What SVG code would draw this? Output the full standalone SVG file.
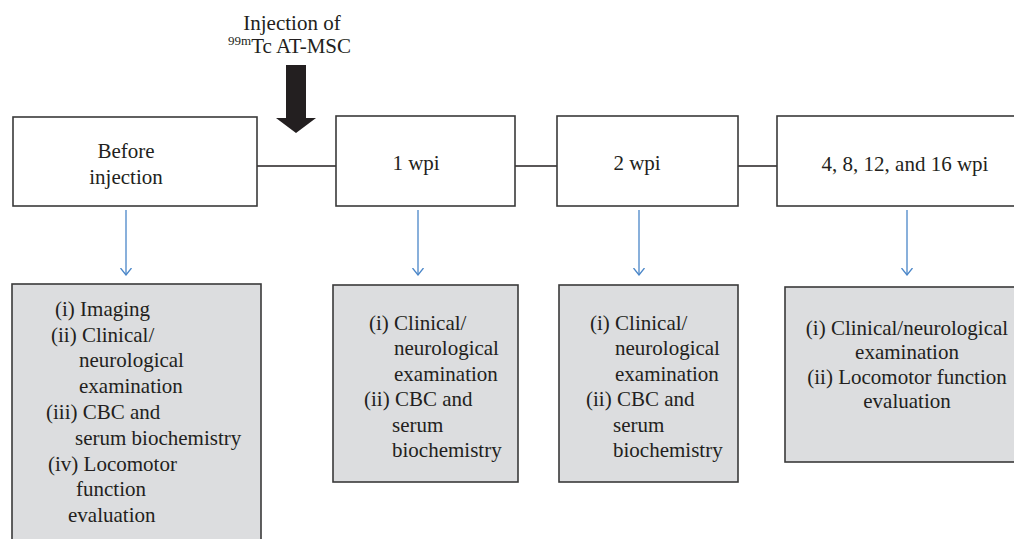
<svg xmlns="http://www.w3.org/2000/svg" width="1014" height="539" viewBox="0 0 1014 539">
<style>
text{font-family:'Liberation Serif','DejaVu Serif','Noto Serif',serif;font-size:21px;fill:#231f20}
.top{fill:#fff;stroke:#3a3a3a;stroke-width:1.6}
.res{fill:#dcdddf;stroke:#3a3a3a;stroke-width:1.6}
.link{stroke:#231f20;stroke-width:1.4;fill:none}
.blue{stroke:#4a86c8;stroke-width:1.3;fill:none}
.mid{text-anchor:middle}
</style>
<defs>
<marker id="v" viewBox="0 0 8 12" refX="7.5" refY="6" markerWidth="8" markerHeight="12" markerUnits="userSpaceOnUse" orient="auto">
<path d="M0.5,0.5 L7.5,6 L0.5,11.5" fill="none" stroke="#4a86c8" stroke-width="1.3"/>
</marker>
</defs>
<g id="injection">
<text class="mid" x="292" y="30">Injection of</text>
<text x="228" y="53"><tspan font-size="13" dy="-8">99m</tspan><tspan dy="8">Tc AT-MSC</tspan></text>
<polygon points="286,65 306,65 306,118 316,118 296,133 276,118 286,118" fill="#231f20"/>
</g>
<g id="connectors">
<line class="link" x1="257" y1="166" x2="336" y2="166"/>
<line class="link" x1="515" y1="166" x2="557" y2="166"/>
<line class="link" x1="738" y1="166" x2="777" y2="166"/>
<line class="blue" x1="126" y1="210" x2="126" y2="275" marker-end="url(#v)"/>
<line class="blue" x1="418" y1="210" x2="418" y2="275" marker-end="url(#v)"/>
<line class="blue" x1="639" y1="210" x2="639" y2="275" marker-end="url(#v)"/>
<line class="blue" x1="907" y1="210" x2="907" y2="275" marker-end="url(#v)"/>
</g>
<g id="before">
<rect class="top" x="13" y="117" width="244" height="89"/>
<text class="mid" x="126" y="158">Before</text>
<text class="mid" x="126" y="184">injection</text>
</g>
<g id="wpi1">
<rect class="top" x="336" y="116" width="179" height="90"/>
<text class="mid" x="416" y="170">1 wpi</text>
</g>
<g id="wpi2">
<rect class="top" x="557" y="116" width="181" height="90"/>
<text class="mid" x="637" y="170">2 wpi</text>
</g>
<g id="wpi4">
<rect class="top" x="777" y="116" width="250" height="90"/>
<text class="mid" x="905" y="171">4, 8, 12, and 16 wpi</text>
</g>
<g id="res-before">
<rect class="res" x="12" y="284" width="249" height="270"/>
<text x="55" y="316">(i) Imaging</text>
<text x="51" y="342">(ii) Clinical/</text>
<text x="79" y="367">neurological</text>
<text x="79" y="393">examination</text>
<text x="46" y="419">(iii) CBC and</text>
<text x="75" y="445">serum biochemistry</text>
<text x="48" y="471">(iv) Locomotor</text>
<text x="76" y="496">function</text>
<text x="68" y="522">evaluation</text>
</g>
<g id="res-1wpi">
<rect class="res" x="333" y="285" width="185" height="197"/>
<text x="369" y="330">(i) Clinical/</text>
<text x="394" y="355">neurological</text>
<text x="394" y="381">examination</text>
<text x="364" y="406">(ii) CBC and</text>
<text x="392" y="432">serum</text>
<text x="392" y="457">biochemistry</text>
</g>
<g id="res-2wpi">
<rect class="res" x="559" y="285" width="179" height="197"/>
<text x="590" y="330">(i) Clinical/</text>
<text x="615" y="355">neurological</text>
<text x="615" y="381">examination</text>
<text x="586" y="406">(ii) CBC and</text>
<text x="613" y="432">serum</text>
<text x="613" y="457">biochemistry</text>
</g>
<g id="res-4wpi">
<rect class="res" x="785" y="287" width="240" height="175"/>
<text class="mid" x="907" y="335">(i) Clinical/neurological</text>
<text class="mid" x="907" y="359">examination</text>
<text class="mid" x="907" y="384">(ii) Locomotor function</text>
<text class="mid" x="907" y="408">evaluation</text>
</g>
</svg>
